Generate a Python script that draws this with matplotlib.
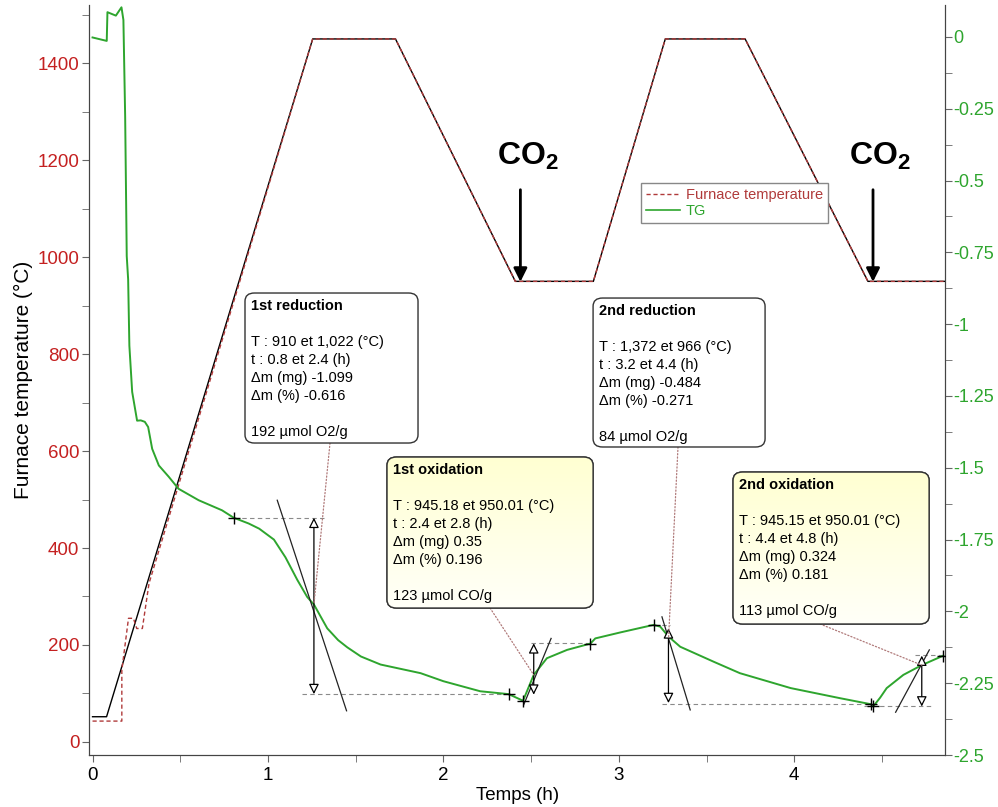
import numpy as np
import matplotlib
matplotlib.use("Agg")
import matplotlib.pyplot as plt
from matplotlib.lines import Line2D
from matplotlib.patches import FancyBboxPatch
from matplotlib.colors import LinearSegmentedColormap
from matplotlib.ticker import MultipleLocator

plt.rcParams['font.family'] = ['Liberation Sans', 'DejaVu Sans']
plt.rcParams['mathtext.fontset'] = 'custom'
plt.rcParams['mathtext.rm'] = 'Liberation Sans'
plt.rcParams['mathtext.bf'] = 'Liberation Sans:bold'

# ---- temperature programme (h, degC) ----
furnace_t = [0.0, 0.167, 0.167, 0.205, 0.233, 0.252, 0.284, 0.322, 1.255, 1.727,
             2.41, 2.855, 3.265, 3.72, 4.42, 4.86]
furnace_T = [43, 43, 148, 255, 255, 234, 234, 327, 1450, 1450,
             950, 950, 1450, 1450, 950, 950]
sample_t = [0.0, 0.08, 1.255, 1.727, 2.41, 2.855, 3.265, 3.72, 4.42, 4.86]
sample_T = [52, 52, 1450, 1450, 950, 950, 1450, 1450, 950, 950]

# ---- TG signal (h, mg) ----
tg_t = [0.0, 0.081, 0.085, 0.133, 0.165, 0.176, 0.186, 0.195, 0.203, 0.21,
        0.226, 0.254, 0.275, 0.298, 0.317, 0.34, 0.378, 0.434, 0.49, 0.605,
        0.738, 0.805, 0.89, 0.95, 1.034, 1.1, 1.167, 1.224, 1.262, 1.338,
        1.40, 1.452, 1.53, 1.642, 1.87, 2.0, 2.21, 2.372, 2.454, 2.515,
        2.59, 2.705, 2.838, 2.866, 3.01, 3.198, 3.236, 3.284, 3.35, 3.54,
        3.69, 3.98, 4.26, 4.436, 4.45, 4.49, 4.527, 4.622, 4.727, 4.85]
tg_m = [-0.002, -0.014, 0.086, 0.074, 0.103, 0.059, -0.277, -0.763, -0.844, -1.075,
        -1.236, -1.336, -1.335, -1.34, -1.358, -1.434, -1.492, -1.531, -1.573, -1.613,
        -1.648, -1.674, -1.694, -1.712, -1.750, -1.812, -1.890, -1.950, -1.976, -2.059,
        -2.100, -2.125, -2.157, -2.185, -2.215, -2.243, -2.278, -2.288, -2.311, -2.221,
        -2.163, -2.134, -2.112, -2.094, -2.073, -2.047, -2.053, -2.088, -2.123, -2.175,
        -2.215, -2.267, -2.302, -2.323, -2.331, -2.300, -2.267, -2.221, -2.187, -2.154]

# ---- step analysis: markers, levels, arrows, tangents ----
plus_t = [0.805, 2.372, 2.454, 2.838, 3.198, 4.436, 4.45, 4.85]
plus_m = [-1.674, -2.288, -2.311, -2.112, -2.047, -2.323, -2.331, -2.154]

# horizontal reference levels: (t start, t end, level)
level_t0 = [0.805, 1.196, 2.497, 3.198, 3.246, 4.40, 4.69]
level_t1 = [1.317, 2.372, 2.838, 3.29, 4.436, 4.79, 4.85]
level_m = [-1.674, -2.288, -2.111, -2.047, -2.323, -2.331, -2.152]

# vertical double arrows: time, top, bottom
arrow_t = [1.262, 2.515, 3.283, 4.727]
arrow_top = [-1.674, -2.111, -2.059, -2.154]
arrow_bot = [-2.288, -2.290, -2.319, -2.331]

# tangents at inflection points
tan_t0 = [1.053, 2.458, 3.246, 4.578]
tan_t1 = [1.448, 2.614, 3.407, 4.77]
tan_m0 = [-1.613, -2.325, -2.019, -2.351]
tan_m1 = [-2.346, -2.094, -2.343, -2.134]

# inflection points the labels point at
pivot_t = [1.262, 2.515, 3.284, 4.727]
pivot_m = [-1.976, -2.221, -2.088, -2.187]

step_titles = ["1st reduction", "1st oxidation", "2nd reduction", "2nd oxidation"]
step_texts = [
    "T : 910 et 1,022 (°C)\nt : 0.8 et 2.4 (h)\nΔm (mg) -1.099\nΔm (%) -0.616\n\n192 µmol O2/g",
    "T : 945.18 et 950.01 (°C)\nt : 2.4 et 2.8 (h)\nΔm (mg) 0.35\nΔm (%) 0.196\n\n123 µmol CO/g",
    "T : 1,372 et 966 (°C)\nt : 3.2 et 4.4 (h)\nΔm (mg) -0.484\nΔm (%) -0.271\n\n84 µmol O2/g",
    "T : 945.15 et 950.01 (°C)\nt : 4.4 et 4.8 (h)\nΔm (mg) 0.324\nΔm (%) 0.181\n\n113 µmol CO/g",
]

# CO2 switch-over times
co2_t = [2.439, 4.449]

red = '#c42020'
green = '#2ea52e'
furnace_col = '#b03a3a'

fig = plt.figure(figsize=(9.98, 8.07), dpi=100)
ax = fig.add_axes([0.0892, 0.0644, 0.8578, 0.9294])
ax2 = ax.twinx()

ax.plot(sample_t, sample_T, color='black', lw=1.0, zorder=2)
ax.plot(furnace_t, furnace_T, color=furnace_col, lw=1.0, ls=(0, (3, 2)), zorder=3)

ax2.plot(tg_t, tg_m, color=green, lw=1.4, zorder=3)

# step analysis drawing
ax2.hlines(level_m, level_t0, level_t1, colors='#8a8a8a', lw=0.8,
           linestyles=(0, (4, 3)), zorder=2)
for i in range(len(tan_t0)):
    ax2.plot([tan_t0[i], tan_t1[i]], [tan_m0[i], tan_m1[i]], color='#222222', lw=0.9, zorder=4)
for i in range(len(arrow_t)):
    ax2.annotate('', xy=(arrow_t[i], arrow_bot[i]), xytext=(arrow_t[i], arrow_top[i]),
                 arrowprops=dict(arrowstyle='<|-|>', fc='white', ec='black', lw=0.9,
                                 mutation_scale=15, shrinkA=0, shrinkB=0), zorder=4)
ax2.plot(plus_t, plus_m, ls='none', marker='+', color='black', ms=8, mew=1.0, zorder=5)

# label boxes (axes fraction: left, bottom, right, top) and leader anchors
boxes = [(0.1822, 0.416, 0.3843, 0.616),
         (0.3481, 0.196, 0.5888, 0.3973),
         (0.5888, 0.4107, 0.7897, 0.6093),
         (0.7523, 0.1747, 0.9813, 0.3773)]
anchors = [(0.2815, 0.416), (0.4685, 0.196), (0.688, 0.4107), (0.854, 0.1747)]
yellow_box = [False, True, False, True]
yellow_map = LinearSegmentedColormap.from_list('yl', ['#fffff8', '#ffffd2'])

for i, (x0, y0, x1, y1) in enumerate(boxes):
    ax2.annotate('', xy=(pivot_t[i], pivot_m[i]), xycoords='data',
                 xytext=anchors[i], textcoords='axes fraction',
                 arrowprops=dict(arrowstyle='-', color='#b07a7a', lw=0.9, ls=':',
                                 shrinkA=0, shrinkB=0), zorder=5)
    patch = FancyBboxPatch((x0, y0), x1 - x0, y1 - y0,
                           boxstyle='round,pad=0,rounding_size=0.011',
                           transform=ax2.transAxes, fc='white', ec='#333333',
                           lw=1.0, zorder=6)
    ax2.add_patch(patch)
    if yellow_box[i]:
        grad = np.linspace(0, 1, 64).reshape(-1, 1)
        im = ax2.imshow(grad, extent=(x0, x1, y0, y1), transform=ax2.transAxes,
                        cmap=yellow_map, origin='lower', aspect='auto', zorder=6.5)
        im.set_clip_path(patch)
        frame = FancyBboxPatch((x0, y0), x1 - x0, y1 - y0,
                               boxstyle='round,pad=0,rounding_size=0.011',
                               transform=ax2.transAxes, fc='none', ec='#333333',
                               lw=1.0, zorder=6.8)
        ax2.add_patch(frame)
    ax2.text(x0 + 0.007, y1 - 0.008, step_titles[i], transform=ax2.transAxes,
             fontsize=10.5, fontweight='bold', va='top', ha='left', zorder=7)
    ax2.text(x0 + 0.007, y1 - 0.056, step_texts[i], transform=ax2.transAxes,
             fontsize=10.5, va='top', ha='left', linespacing=1.36, zorder=7)

# CO2 injection arrows
for t in co2_t:
    ax.annotate('', xy=(t, 949), xytext=(t, 1139),
                arrowprops=dict(arrowstyle='-|>', color='black', lw=2,
                                mutation_scale=20, shrinkA=0, shrinkB=0), zorder=6)
    ax.text(t + 0.04, 1207, r'$\mathbf{CO_2}$', fontsize=23, ha='center',
            va='center', zorder=6)

ax.set_xlim(-0.02, 4.86)
ax.set_ylim(-27, 1520)
ax2.set_ylim(-2.49, 0.111)
ax2.set_xlim(-0.02, 4.86)

ax.xaxis.set_major_locator(MultipleLocator(1))
ax.xaxis.set_minor_locator(MultipleLocator(0.5))
ax.yaxis.set_major_locator(MultipleLocator(200))
ax.yaxis.set_minor_locator(MultipleLocator(100))
ax2.yaxis.set_minor_locator(MultipleLocator(0.125))
ax2.set_yticks([0, -0.25, -0.5, -0.75, -1, -1.25, -1.5, -1.75, -2, -2.25, -2.5])
ax2.set_yticklabels(['0', '-0.25', '-0.5', '-0.75', '-1', '-1.25', '-1.5',
                     '-1.75', '-2', '-2.25', '-2.5'])

for a in (ax, ax2):
    a.spines['top'].set_visible(False)
    for s in a.spines.values():
        s.set_color('#444444')
    a.tick_params(which='major', length=5, color='#666666', labelsize=13.5)
    a.tick_params(which='minor', length=5, color='#666666')
ax.tick_params(axis='y', labelcolor=red, pad=2)
ax2.tick_params(axis='y', labelcolor=green, labelsize=13, pad=1)

ax.set_xlabel('Temps (h)', fontsize=13.5, labelpad=2)
ax.set_ylabel('Furnace temperature (°C)', fontsize=15, labelpad=3)

handles = [Line2D([], [], color=furnace_col, lw=1.0, ls=(0, (3, 2))),
           Line2D([], [], color=green, lw=1.2)]
leg = ax2.legend(handles, ['Furnace temperature', 'TG'], loc='upper left',
                 bbox_to_anchor=(0.645, 0.763), fontsize=10.5, frameon=True,
                 fancybox=False, framealpha=1, edgecolor='#888888',
                 handlelength=2.3, borderpad=0.35, labelspacing=0.12,
                 handletextpad=0.4, borderaxespad=0)
leg.get_texts()[0].set_color(furnace_col)
leg.get_texts()[1].set_color(green)
leg.set_zorder(8)

fig.savefig('out.png', dpi=100)
